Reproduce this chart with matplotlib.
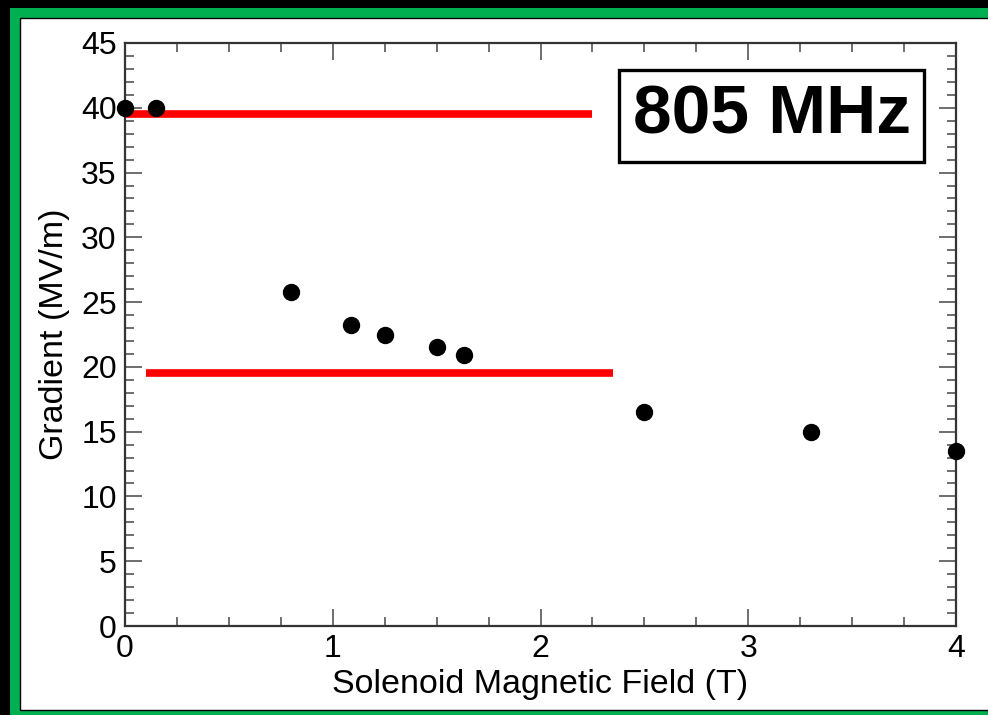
import numpy as np
import matplotlib.pyplot as plt
from matplotlib.patches import Rectangle
from matplotlib.ticker import MultipleLocator

field = [0.0, 0.15, 0.80, 1.09, 1.25, 1.50, 1.63, 2.50, 3.30, 4.00]
gradient = [40.0, 40.0, 25.8, 23.2, 22.5, 21.5, 20.9, 16.5, 15.0, 13.5]

# red reference lines: (x start, x end, level)
ref_x0 = [0.0, 0.10]
ref_x1 = [2.25, 2.35]
ref_y = [39.5, 19.5]

label_text = "805 MHz"

FIG_DPI = 100
FIG_SIZE = (9.88, 7.15)

plt.rcParams["font.family"] = ["Liberation Sans", "DejaVu Sans"]

fig = plt.figure(figsize=FIG_SIZE, dpi=FIG_DPI, facecolor="black")

# green frame + white page
W, H = 988.0, 715.0
fig.add_artist(Rectangle((10 / W, 0), 1.0, (H - 8) / H, transform=fig.transFigure,
                         facecolor="#00B050", edgecolor="none", zorder=-10))
fig.add_artist(Rectangle((20 / W, 5 / H), 1.0, (H - 18 - 5) / H, transform=fig.transFigure,
                         facecolor="white", edgecolor="black", linewidth=1.0, zorder=-9))

ax = fig.add_axes([125 / W, 89 / H, (956 - 125) / W, (626 - 43) / H])
ax.set_facecolor("none")

for x0, x1, y in zip(ref_x0, ref_x1, ref_y):
    ax.plot([x0, x1], [y, y], color="red", linewidth=5.5, solid_capstyle="butt", zorder=2)

ax.plot(field, gradient, linestyle="none", marker="o", markersize=11.5,
        color="black", clip_on=False, zorder=5)

ax.set_xlim(0, 4)
ax.set_ylim(0, 45)
ax.xaxis.set_major_locator(MultipleLocator(1))
ax.xaxis.set_minor_locator(MultipleLocator(0.25))
ax.yaxis.set_major_locator(MultipleLocator(5))
ax.yaxis.set_minor_locator(MultipleLocator(1))

ax.tick_params(which="both", direction="in", top=True, right=True, color="#555555",
               labelsize=23, width=1.2)
ax.tick_params(which="major", length=12, pad=6)
ax.tick_params(which="minor", length=6.5)
for s in ax.spines.values():
    s.set_linewidth(1.6)
    s.set_color("#333333")

ax.set_xlabel("Solenoid Magnetic Field (T)", fontsize=24.5, labelpad=3.5)
ax.set_ylabel("Gradient (MV/m)", fontsize=24.5, labelpad=8)

ax.text(0.778, 0.875, label_text, transform=ax.transAxes, ha="center", va="center",
        fontsize=50, fontweight="bold",
        bbox=dict(boxstyle="square,pad=0.2", facecolor="white", edgecolor="black", linewidth=2.4))

plt.savefig("out.png", dpi=FIG_DPI, facecolor=fig.get_facecolor())
